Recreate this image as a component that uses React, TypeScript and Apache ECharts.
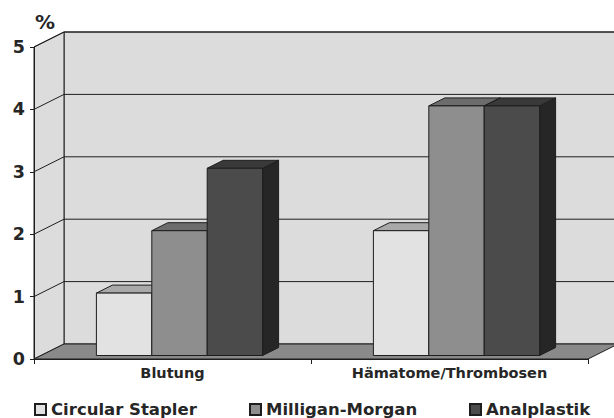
import React, { useEffect, useRef } from "react";
import * as echarts from "echarts";

// Chart data
const categories = ["Blutung", "Hämatome/Thrombosen"];
const seriesNames = ["Circular Stapler", "Milligan-Morgan", "Analplastik"];
const circularStapler = [1, 2];
const milliganMorgan = [2, 4];
const analplastik = [3, 4];
const yTicks = [0, 1, 2, 3, 4, 5];

// Shading of each 3D bar: front, top and right-hand face
const faceColors = [
  { front: "#e2e2e2", top: "#a9a9a9", side: "#9a9a9a" },
  { front: "#8e8e8e", top: "#6c6c6c", side: "#555555" },
  { front: "#4b4b4b", top: "#393939", side: "#262626" },
];

// Legend entry positions (left edge of each swatch)
const legendLefts = [34, 249, 469];

// Perspective offsets (px)
const WALL_DX = 30;
const WALL_DY = -15;
const BAR_OFF_X = 7;
const BAR_OFF_Y = -3.5;
const BAR_DX = 16;
const BAR_DY = -8;
const BAR_FRACTION = 0.2;
const EDGE = "#1e1e1e";
const TEXT = "#262626";

const FONT = "DejaVu Sans, Verdana, sans-serif";

function renderWalls(params: any, api: any) {
  const cs = params.coordSys;
  const x0 = cs.x;
  const x1 = cs.x + cs.width;
  const yBase = api.coord([0, 0])[1];
  const yTop = api.coord([0, yTicks[yTicks.length - 1]])[1];
  const children: any[] = [];
  // back wall
  children.push({
    type: "polygon",
    shape: {
      points: [
        [x0 + WALL_DX, yTop + WALL_DY],
        [x1 + WALL_DX, yTop + WALL_DY],
        [x1 + WALL_DX, yBase + WALL_DY],
        [x0 + WALL_DX, yBase + WALL_DY],
      ],
    },
    style: { fill: "#dcdcdc", stroke: EDGE, lineWidth: 1 },
  });
  // side wall
  children.push({
    type: "polygon",
    shape: {
      points: [
        [x0, yTop],
        [x0 + WALL_DX, yTop + WALL_DY],
        [x0 + WALL_DX, yBase + WALL_DY],
        [x0, yBase],
      ],
    },
    style: { fill: "#dcdcdc", stroke: EDGE, lineWidth: 1 },
  });
  // grid lines on back and side walls
  yTicks.forEach((t) => {
    if (t === 0) return;
    const y = api.coord([0, t])[1];
    children.push({
      type: "polyline",
      shape: {
        points: [
          [x0, y],
          [x0 + WALL_DX, y + WALL_DY],
          [x1 + WALL_DX, y + WALL_DY],
        ],
      },
      style: { fill: null, stroke: EDGE, lineWidth: 1 },
    });
  });
  // floor
  children.push({
    type: "polygon",
    shape: {
      points: [
        [x0, yBase],
        [x1, yBase],
        [x1 + WALL_DX, yBase + WALL_DY],
        [x0 + WALL_DX, yBase + WALL_DY],
      ],
    },
    style: { fill: "#8a8a8a", stroke: EDGE, lineWidth: 1 },
  });
  return { type: "group", children };
}

function makeBarRenderer(seriesIndex: number) {
  const c = faceColors[seriesIndex];
  return (params: any, api: any) => {
    const cat = api.value(0);
    const v = api.value(1);
    const base = api.coord([cat, 0]);
    const top = api.coord([cat, v]);
    const band = api.size([1, 0])[0];
    const w = band * BAR_FRACTION;
    const xl = base[0] + BAR_OFF_X + (seriesIndex - 1.5) * w;
    const xr = xl + w;
    const yb = base[1] + BAR_OFF_Y;
    const yt = top[1] + BAR_OFF_Y;
    return {
      type: "group",
      children: [
        {
          type: "polygon",
          shape: {
            points: [
              [xr, yt],
              [xr + BAR_DX, yt + BAR_DY],
              [xr + BAR_DX, yb + BAR_DY],
              [xr, yb],
            ],
          },
          style: { fill: c.side, stroke: EDGE, lineWidth: 1 },
        },
        {
          type: "polygon",
          shape: {
            points: [
              [xl, yt],
              [xr, yt],
              [xr + BAR_DX, yt + BAR_DY],
              [xl + BAR_DX, yt + BAR_DY],
            ],
          },
          style: { fill: c.top, stroke: EDGE, lineWidth: 1 },
        },
        {
          type: "rect",
          shape: { x: xl, y: yt, width: w, height: yb - yt },
          style: { fill: c.front, stroke: EDGE, lineWidth: 1 },
        },
      ],
    };
  };
}

export default function App() {
  const ref = useRef<HTMLDivElement>(null);

  useEffect(() => {
    if (!ref.current) return;
    const chart = echarts.init(ref.current, null, { renderer: "svg" });
    const values = [circularStapler, milliganMorgan, analplastik];

    const barSeries = seriesNames.map((name, i) => ({
      name,
      type: "custom",
      z: 3,
      renderItem: makeBarRenderer(i),
      itemStyle: { color: faceColors[i].front, borderColor: EDGE, borderWidth: 1 },
      data: categories.map((_, ci) => [ci, values[i][ci]]),
    }));

    const legends = seriesNames.map((name, i) => ({
      data: [name],
      left: legendLefts[i],
      top: 401,
      padding: 0,
      itemWidth: 11,
      itemHeight: 11,
      itemGap: 5,
      icon: "rect",
      textStyle: {
        color: TEXT,
        fontSize: 16.5,
        fontWeight: "bold",
        fontFamily: FONT,
      },
    }));

    chart.setOption({
      animation: false,
      backgroundColor: "#ffffff",
      textStyle: { fontFamily: FONT },
      grid: { left: 34, right: 26, top: 47, bottom: 59, containLabel: false },
      xAxis: {
        type: "category",
        data: categories,
        z: 4,
        axisLine: { lineStyle: { color: EDGE, width: 1 } },
        axisTick: { show: true, length: 5, lineStyle: { color: EDGE } },
        axisLabel: {
          margin: 6,
          color: TEXT,
          fontSize: 14.5,
          fontWeight: "bold",
          fontFamily: FONT,
        },
        splitLine: { show: false },
      },
      yAxis: {
        type: "value",
        min: 0,
        max: 5,
        interval: 1,
        z: 4,
        axisLine: { show: true, lineStyle: { color: EDGE, width: 1 } },
        axisTick: { show: true, length: 4, lineStyle: { color: EDGE } },
        axisLabel: {
          margin: 9,
          color: TEXT,
          fontSize: 17.5,
          fontWeight: "bold",
          fontFamily: FONT,
        },
        splitLine: { show: false },
      },
      legend: legends,
      graphic: [
        {
          type: "text",
          left: 35,
          top: 12,
          style: {
            text: "%",
            fill: TEXT,
            font: `bold 20px ${FONT}`,
          },
        },
      ],
      series: [
        {
          name: "walls",
          type: "custom",
          z: 1,
          silent: true,
          renderItem: renderWalls,
          data: [[0, 0]],
        },
        ...barSeries,
      ],
    });

    return () => chart.dispose();
  }, []);

  return (
    <div
      ref={ref}
      style={{ position: "fixed", left: 0, top: 0, width: 614, height: 418 }}
    />
  );
}
